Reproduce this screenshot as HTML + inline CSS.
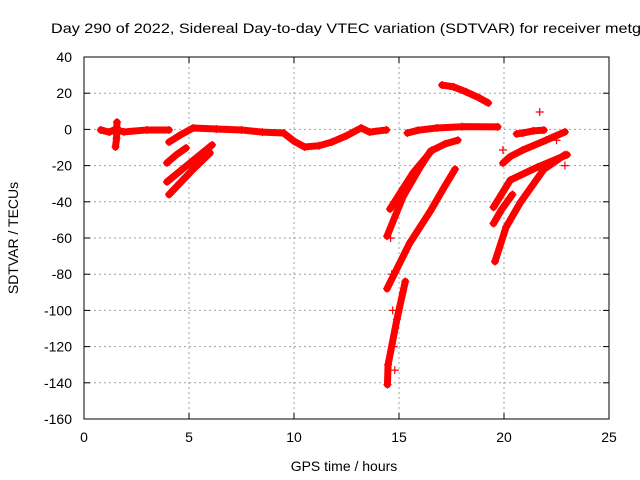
<!DOCTYPE html>
<html><head><meta charset="utf-8"><style>
body{margin:0;background:#fff}
svg{display:block;font-family:"Liberation Sans",sans-serif}
</style></head><body>
<svg id="c" width="640" height="480">
<text x="51" y="33" font-size="14" textLength="590" lengthAdjust="spacingAndGlyphs">Day 290 of 2022, Sidereal Day-to-day VTEC variation (SDTVAR) for receiver metg</text>
<g id="grid"></g>
<g id="marks"></g>
<rect x="84" y="57" width="525" height="362" fill="none" stroke="#000" stroke-width="1"/>
<g id="ticks"></g>
<text x="344" y="471" font-size="14" text-anchor="middle">GPS time / hours</text>
<text transform="translate(18,238) rotate(-90)" font-size="14" text-anchor="middle">SDTVAR / TECUs</text>
</svg>
<script>
const xTicks=[0,5,10,15,20,25];
const yTicks=[40,20,0,-20,-40,-60,-80,-100,-120,-140,-160];
const trackZero1=[[0.8,-0.3],[1.2,-1.5],[1.5,0],[1.9,-1.4],[3,-0.3],[4.05,-0.3]];
const trackSpike1=[[1.5,-9.7],[1.55,-5],[1.57,4]];
const trackZero2=[[4.05,-7],[4.6,-3],[5.2,0.8],[6.3,0.2],[7.5,-0.3],[8.5,-1.5],[9.5,-2],[10,-6.5],[10.5,-9.7],[11.2,-9],[11.8,-7],[12.5,-3.5],[13.2,0.8],[13.6,-1.5],[14.4,-0.3]];
const trackDiag1=[[3.95,-18.5],[4.4,-14],[4.86,-10.3]];
const trackDiag2=[[3.95,-29],[5,-19],[6.1,-8.6]];
const trackDiag3=[[4.05,-36],[5.2,-22],[6.0,-13]];
const trackSteep=[[14.45,-141],[14.48,-130],[14.9,-105],[15.3,-84]];
const trackPlusCol=[[14.6,-60],[14.65,-80],[14.7,-100],[14.75,-120],[14.8,-133]];
const trackCurve1=[[14.43,-88],[15.5,-63],[16.5,-45],[17.2,-31],[17.67,-22]];
const trackCurve2=[[14.43,-59],[15.2,-37],[16,-21],[16.5,-12],[17.2,-8],[17.8,-6]];
const trackCurve3=[[14.57,-44],[15.67,-24],[16.57,-11.5]];
const trackTop=[[17.05,24.5],[17.6,23.5],[18.2,20.7],[18.8,17.5],[19.25,14.6]];
const trackZero3=[[15.4,-2],[15.9,-0.5],[16.8,0.8],[18,1.5],[19.7,1.4]];
const trackRight1=[[20.6,-2.5],[20.9,-2],[21.4,-0.8],[21.9,-0.4]];
const trackRight2=[[19.95,-18.6],[20.3,-15],[20.9,-11.4],[22,-6],[22.9,-1.4]];
const trackRight3=[[19.5,-43],[20.3,-28],[21.6,-20.8],[23,-14]];
const trackRight4=[[19.5,-52],[19.9,-44],[20.4,-36]];
const trackRight5=[[19.57,-73],[20.1,-54],[20.76,-40.7],[21.9,-22],[22.9,-14]];
const isolated=[[19.95,-11.4],[21.7,9.6],[22.5,-6],[22.9,-20]];
const tracks=[trackZero1,trackSpike1,trackZero2,trackDiag1,trackDiag2,trackDiag3,trackSteep,trackCurve1,trackCurve2,trackCurve3,trackTop,trackZero3,trackRight1,trackRight2,trackRight3,trackRight4,trackRight5];

const X=t=>84+t*21, Y=v=>57+(40-v)*1.81;
const NS="http://www.w3.org/2000/svg";
const grid=document.getElementById('grid'),ticks=document.getElementById('ticks'),marks=document.getElementById('marks');
function mk(tag,attrs,parent){const e=document.createElementNS(NS,tag);for(const k in attrs)e.setAttribute(k,attrs[k]);parent.appendChild(e);return e;}
xTicks.forEach(t=>{
  const x=X(t);
  if(t>0&&t<25){const g=mk('line',{x1:x,x2:x,y1:57,y2:419,stroke:'#a0a0a0','stroke-dasharray':'2,3'},grid);
  
  }
  mk('line',{x1:x,x2:x,y1:419,y2:413,stroke:'#000'},ticks);mk('line',{x1:x,x2:x,y1:57,y2:63,stroke:'#000'},ticks);
  const l=mk('text',{x:x,y:442,'font-size':14,'text-anchor':'middle'},ticks);l.textContent=t;
  
  
});
yTicks.forEach(v=>{
  const y=Y(v);
  if(v<40&&v>-160){const g=mk('line',{x1:84,x2:609,y1:y,y2:y,stroke:'#a0a0a0','stroke-dasharray':'2,3'},grid);
  
  }
  mk('line',{x1:84,x2:90,y1:y,y2:y,stroke:'#000'},ticks);mk('line',{x1:609,x2:603,y1:y,y2:y,stroke:'#000'},ticks);
  const l=mk('text',{x:72,y:y+5,'font-size':14,'text-anchor':'end'},ticks);l.textContent=v;
  
  
});
function plus(t,v){const x=X(t),y=Y(v);
  const p=mk('path',{d:`M${x-4} ${y}H${x+4}M${x} ${y-4}V${y+4}`,stroke:'#f00','stroke-width':1.2},marks);
  
  }
tracks.forEach(tr=>{
  const pl=mk('polyline',{points:tr.map(p=>X(p[0])+','+Y(p[1])).join(' '),fill:'none',stroke:'#f00','stroke-width':7,'stroke-linejoin':'round','stroke-linecap':'round'},marks);
  
  
  tr.forEach(p=>plus(p[0],p[1]));
});
trackPlusCol.forEach(p=>plus(p[0],p[1]));
isolated.forEach(p=>plus(p[0],p[1]));
</script>
</body></html>
